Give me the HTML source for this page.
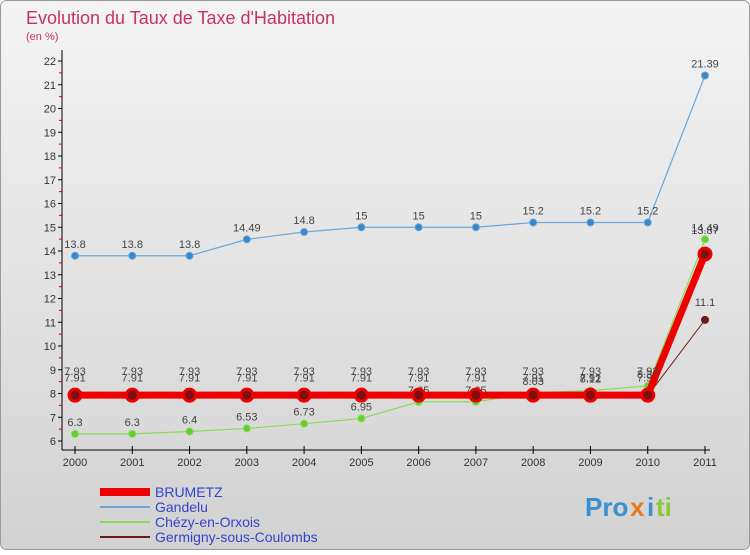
<!DOCTYPE html>
<html><head><meta charset="utf-8"><style>
body{margin:0;width:750px;height:550px;overflow:hidden;font-family:"Liberation Sans",sans-serif;}
</style></head><body>
<svg id="c" width="750" height="550" xmlns="http://www.w3.org/2000/svg">
<defs><linearGradient id="bg" x1="0" y1="0" x2="0" y2="1"><stop offset="0" stop-color="#f4f4f4"/><stop offset="1" stop-color="#d2d2d2"/></linearGradient></defs>
<rect x="0.5" y="0.5" width="749" height="549" rx="6" fill="url(#bg)" stroke="#999"/>
<text x="26" y="24" font-size="18" fill="#c8306a">Evolution du Taux de Taxe d'Habitation</text>
<text x="26" y="40" font-size="11" fill="#c8306a">(en %)</text>
<g id="axes"></g><g id="series"></g><g id="legend"></g>
<g font-size="26" font-weight="bold">
<text x="585" y="516" fill="#3a8fd0">Pro</text><text x="630" y="516" fill="#e87a20">x</text><text x="647" y="516" fill="#3a8fd0">i</text><text x="656" y="516" fill="#8cc83c">ti</text>
</g>
</svg>
<script>
const years=["2000","2001","2002","2003","2004","2005","2006","2007","2008","2009","2010","2011"];
const yTicks=[6,7,8,9,10,11,12,13,14,15,16,17,18,19,20,21,22];
const brumetz=[7.93,7.93,7.93,7.93,7.93,7.93,7.93,7.93,7.93,7.93,7.93,13.87];
const gandelu=[13.8,13.8,13.8,14.49,14.8,15,15,15,15.2,15.2,15.2,21.39];
const chezy=[6.3,6.3,6.4,6.53,6.73,6.95,7.65,7.65,8.03,8.12,8.32,14.49];
const germigny=[7.91,7.91,7.91,7.91,7.91,7.91,7.91,7.91,7.91,7.91,7.91,11.1];
const NS="http://www.w3.org/2000/svg";
const X=i=>75+i*(630/11);
const Y=v=>441-(v-6)*23.75;
function mk(p,t,a){const e=document.createElementNS(NS,t);for(const k in a)e.setAttribute(k,a[k]);p.appendChild(e);return e;}
const ax=document.getElementById('axes');
mk(ax,'line',{x1:62,y1:50,x2:62,y2:450,stroke:'#000','stroke-width':1});
mk(ax,'line',{x1:62,y1:450,x2:710,y2:450,stroke:'#000','stroke-width':1});
yTicks.forEach(v=>{
 mk(ax,'line',{x1:58,y1:Y(v),x2:62,y2:Y(v),stroke:'#000'});
 if(v<22){mk(ax,'line',{x1:59,y1:Y(v+0.5),x2:62,y2:Y(v+0.5),stroke:'#d00'});}
 const t=mk(ax,'text',{x:56,y:Y(v)+4,'font-size':11,'text-anchor':'end',fill:'#333'});t.textContent=v;
 
 
});
years.forEach((y,i)=>{
 mk(ax,'line',{x1:X(i),y1:446,x2:X(i),y2:454,stroke:'#000'});
 const t=mk(ax,'text',{x:X(i),y:466,'font-size':11,'text-anchor':'middle',fill:'#333'});t.textContent=y;
 
 
});
const sg=document.getElementById('series');
function series(data,color,w,r,fill,name,lblDy){
 const g=mk(sg,'g',{});
 
 
 mk(g,'polyline',{points:data.map((v,i)=>X(i)+','+Y(v)).join(' '),fill:'none',stroke:color,'stroke-width':w});
 data.forEach((v,i)=>{
  const c=mk(g,'circle',{cx:X(i),cy:Y(v),r:r,fill:fill,stroke:color,'stroke-width':w>3?3:1});
  
  
  const t=mk(g,'text',{x:X(i),y:Y(v)+lblDy,'font-size':11,'text-anchor':'middle',fill:'#444'});t.textContent=v;
  
  
 });
}
series(gandelu,'#6aa6d8',1.2,3.5,'#3a86c8','gandelu',-8);
series(chezy,'#88dd55',1.2,3.5,'#66cc33','chezy',-8);
series(germigny,'#6b1a1a',1,3.5,'#6b1a1a','germigny',-14);
series(brumetz,'#ee0000',7,6,'#7a1010','brumetz',-20);
const lg=document.getElementById('legend');
[['BRUMETZ','#ee0000',8],['Gandelu','#6aa6d8',2],['Chézy-en-Orxois','#88dd55',2],['Germigny-sous-Coulombs','#6b1a1a',2]].forEach((d,i)=>{
 const y=492+i*15;
 const g=mk(lg,'g',{});
 
 
 mk(g,'line',{x1:100,y1:y,x2:150,y2:y,stroke:d[1],'stroke-width':d[2]});
 const t=mk(g,'text',{x:155,y:y+5,'font-size':14,fill:'#3344cc'});t.textContent=d[0];
});
</script>
</body></html>
